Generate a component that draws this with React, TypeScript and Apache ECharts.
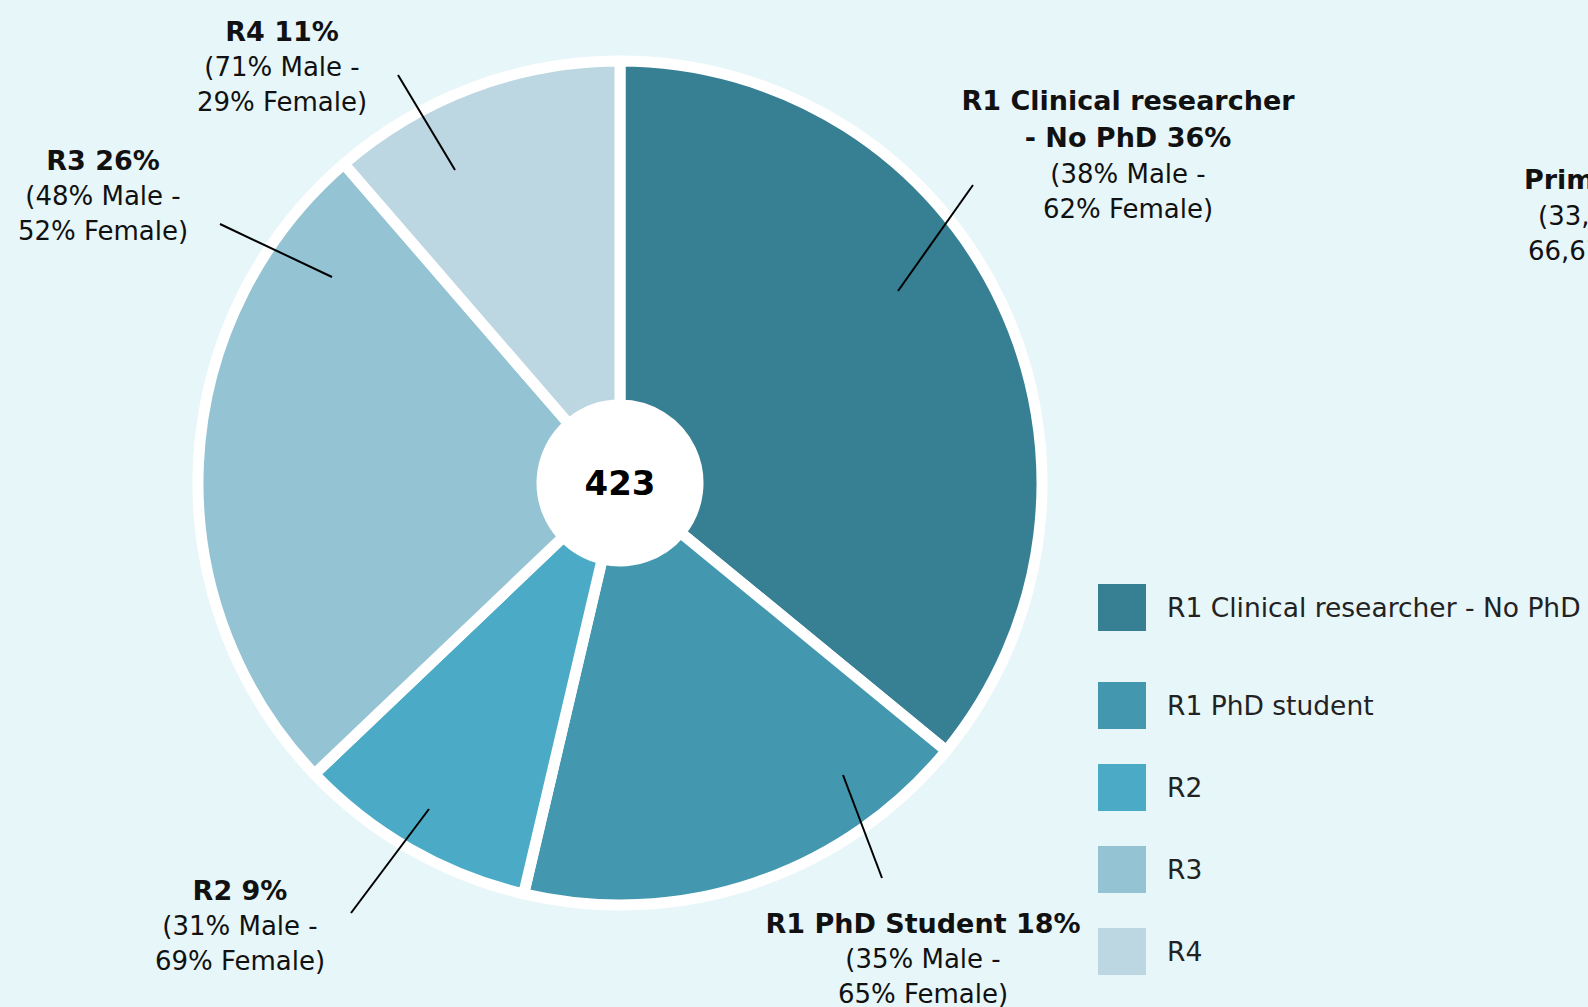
import React, { useEffect, useRef } from "react";
import * as echarts from "echarts";

// ---- data ----
const categories = ["R1 Clinical researcher - No PhD", "R1 PhD student", "R2", "R3", "R4"];
const labelTitles = [["R1 Clinical researcher", "- No PhD"], ["R1 PhD Student"], ["R2"], ["R3"], ["R4"]];
const counts = [152, 75, 39, 109, 48];
const malePct = [38, 35, 31, 48, 71];
const femalePct = [62, 65, 69, 52, 29];
const totalLabel = "423";
const sideTitle = "Primary care researcher";
const sideMale = "(33,33% Male -";
const sideFemale = "66,67% Female)";

// ---- styles / layout ----
const colors = ["#377F93", "#4398AF", "#4BABC6", "#94C3D4", "#BCD7E2"];
const BG = "#E7F6F9";
const FONT = "'DejaVu Sans', sans-serif";
const CX = 620;
const CY = 483;
const labelLayouts = [
  { x: 1128, y: 154, from: [898, 291], to: [973, 185] },
  { x: 923, y: 958, from: [843, 775], to: [882, 878] },
  { x: 240, y: 925, from: [429, 809], to: [351, 913] },
  { x: 103, y: 195, from: [332, 277], to: [220, 224] },
  { x: 282, y: 66, from: [455, 170], to: [398, 75] },
];

export default function App() {
  const ref = useRef<HTMLDivElement>(null);
  useEffect(() => {
    if (!ref.current) return;
    const chart = echarts.init(ref.current, undefined, { renderer: "svg" });
    const total = counts.reduce((a, b) => a + b, 0);
    const data = categories.map((name, i) => {
      const pct = Math.round((counts[i] / total) * 100);
      const t = labelTitles[i].slice();
      t[t.length - 1] = t[t.length - 1] + " " + pct + "%";
      const text = [
        ...t.map((s) => "{b|" + s + "}"),
        "{n|(" + malePct[i] + "% Male -}",
        "{n|" + femalePct[i] + "% Female)}",
      ].join("\n");
      return {
        name,
        value: counts[i],
        itemStyle: { color: colors[i] },
        label: { formatter: text },
      };
    });
    const legendCommon = {
      left: 1098,
      orient: "vertical",
      icon: "rect",
      padding: 0,
      itemWidth: 48,
      itemHeight: 47,
      itemStyle: { borderWidth: 0 },
      selectedMode: false,
      textStyle: { fontSize: 26.5, color: "#222", fontFamily: FONT, padding: [6, 0, 0, 16] },
    };
    const option: any = {
      animation: false,
      backgroundColor: BG,
      legend: [
        { ...legendCommon, data: [categories[0]], top: 584 },
        { ...legendCommon, data: categories.slice(1), top: 682, itemGap: 35 },
      ],
      graphic: [
        ...labelLayouts.map((L) => ({
          type: "line",
          z: 100,
          silent: true,
          shape: { x1: L.from[0], y1: L.from[1], x2: L.to[0], y2: L.to[1] },
          style: { stroke: "#000", lineWidth: 2 },
        })),
        {
          type: "text",
          x: 1524,
          y: 166,
          style: { text: sideTitle, font: "bold 27px " + FONT, fill: "#111" },
        },
        {
          type: "text",
          x: 1538,
          y: 203,
          style: { text: sideMale, font: "26px " + FONT, fill: "#111" },
        },
        {
          type: "text",
          x: 1528,
          y: 238,
          style: { text: sideFemale, font: "26px " + FONT, fill: "#111" },
        },
      ],
      series: [
        {
          type: "pie",
          center: [CX, CY],
          radius: [78, 422],
          startAngle: 90,
          clockwise: true,
          avoidLabelOverlap: false,
          silent: true,
          itemStyle: { borderColor: "#fff", borderWidth: 11 },
          label: {
            show: true,
            position: "outside",
            color: "#111",
            fontFamily: FONT,
            align: "center",
            rich: {
              b: { fontSize: 27, fontWeight: "bold", lineHeight: 37, color: "#111", fontFamily: FONT, align: "center" },
              n: { fontSize: 26, lineHeight: 35, color: "#111", fontFamily: FONT, align: "center" },
            },
          },
          labelLine: { show: false },
          labelLayout: (params: any) => {
            const L = labelLayouts[params.dataIndex];
            return { x: L.x, y: L.y, align: "center", verticalAlign: "middle" };
          },
          data,
        },
        {
          type: "pie",
          center: [CX, CY],
          radius: [0, 79],
          silent: true,
          itemStyle: { color: "#fff", borderWidth: 0 },
          label: {
            show: true,
            position: "center",
            formatter: totalLabel,
            fontSize: 34,
            fontWeight: "bold",
            color: "#000",
            fontFamily: FONT,
          },
          labelLine: { show: false },
          data: [{ name: "total", value: 1 }],
        },
      ],
    };
    chart.setOption(option);
    return () => chart.dispose();
  }, []);
  return (
    <div
      ref={ref}
      style={{ position: "fixed", left: 0, top: 0, width: 1588, height: 1007, background: BG }}
    />
  );
}
